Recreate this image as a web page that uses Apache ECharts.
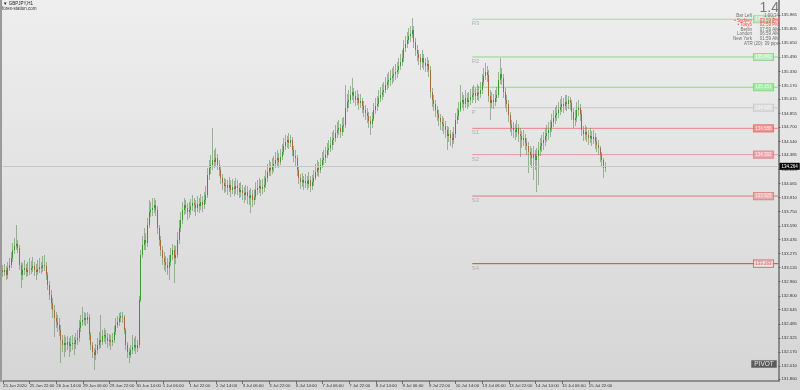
<!DOCTYPE html>
<html><head><meta charset="utf-8">
<script src="https://cdn.jsdelivr.net/npm/echarts@6/dist/echarts.min.js"></script>
<style>html,body{margin:0;padding:0;}#c{width:800px;height:390px;background:linear-gradient(#eeeeee,#d5d5d5);}</style>
</head><body><div id="c"></div>
<script>
const symbolName = 'GBPJPY,H1';
const xTickLabels = ['25 Jun 2020','25 Jun 22:00','26 Jun 14:00','29 Jun 06:00','29 Jun 22:00','30 Jun 14:00','1 Jul 06:00','1 Jul 22:00','2 Jul 14:00','3 Jul 06:00','3 Jul 22:00','6 Jul 14:00','7 Jul 06:00','7 Jul 22:00','8 Jul 14:00','9 Jul 06:00','9 Jul 22:00','10 Jul 14:00','13 Jul 06:00','13 Jul 22:00','14 Jul 14:00','15 Jul 06:00','15 Jul 22:00'];
const yTickValues = [135.965,135.805,135.650,135.490,135.330,135.170,135.015,134.855,134.700,134.540,134.385,134.225,134.065,133.910,133.750,133.590,133.435,133.275,133.120,132.960,132.800,132.645,132.485,132.325,132.170,132.010,131.860];

const opens = [
133.092,133.069,133.092,133.036,133.114,133.148,133.227,133.317,133.362,133.385,
133.340,133.148,133.036,133.092,133.114,133.069,133.092,133.092,133.114,133.136,
133.092,133.069,133.103,133.125,133.114,133.148,133.136,133.036,132.923,132.810,
132.720,132.641,132.551,132.505,132.472,132.416,132.303,132.247,132.269,132.247,
132.280,132.235,132.258,132.269,132.258,132.303,132.326,132.438,132.505,132.528,
132.551,132.528,132.562,132.360,132.247,132.167,132.134,132.190,132.247,132.303,
132.280,132.348,132.360,132.326,132.292,132.303,132.280,132.303,132.393,132.472,
132.505,132.551,132.573,132.562,132.416,132.247,132.167,132.134,132.190,132.224,
132.247,132.212,132.247,132.754,133.261,133.374,133.430,133.396,133.599,133.745,
133.768,133.790,133.824,133.768,133.565,133.430,133.317,133.227,133.181,133.148,
133.114,133.181,133.261,133.317,133.227,133.261,133.430,133.565,133.655,133.768,
133.824,133.790,133.745,133.768,133.812,133.846,133.824,133.790,133.835,133.812,
133.857,133.824,133.880,133.936,134.162,134.241,134.275,134.331,134.308,134.354,
134.275,134.218,134.128,134.072,134.038,134.050,134.016,134.050,133.993,134.027,
134.005,134.038,134.016,133.970,133.993,133.959,133.936,133.970,133.925,133.903,
133.936,133.880,133.914,133.993,134.016,134.038,134.005,134.027,134.050,134.128,
134.196,134.241,134.218,134.264,134.286,134.331,134.354,134.308,134.365,134.421,
134.489,134.534,134.557,134.523,134.557,134.444,134.376,134.354,134.218,134.128,
134.083,134.106,134.072,134.095,134.061,134.106,134.038,134.083,134.128,134.196,
134.241,134.218,134.275,134.331,134.354,134.388,134.444,134.467,134.500,134.557,
134.579,134.635,134.669,134.692,134.646,134.714,134.726,134.917,134.984,135.007,
135.064,135.097,135.052,135.007,135.030,134.973,134.996,134.939,134.895,134.861,
134.827,134.771,134.737,134.793,134.895,134.939,134.962,135.030,135.064,135.097,
135.120,135.176,135.210,135.233,135.255,135.278,135.301,135.323,135.346,135.390,
135.435,135.480,135.593,135.638,135.683,135.728,135.751,135.796,135.661,135.571,
135.526,135.480,135.435,135.480,135.424,135.390,135.413,135.346,135.097,135.007,
134.962,134.895,134.850,134.805,134.759,134.737,134.714,134.669,134.602,134.624,
134.579,134.557,134.624,134.782,134.827,134.895,134.984,135.007,134.962,135.030,
134.984,135.007,135.041,135.064,135.086,135.052,135.097,135.075,135.120,135.210,
135.278,135.323,135.289,135.052,134.973,135.007,134.984,135.030,135.064,135.233,
135.301,135.255,135.097,135.007,134.962,134.838,134.726,134.692,134.669,134.646,
134.692,134.624,134.602,134.557,134.579,134.523,134.489,134.421,134.388,134.354,
134.399,134.331,134.376,134.444,134.489,134.523,134.557,134.602,134.635,134.669,
134.692,134.759,134.805,134.838,134.861,134.895,134.928,134.962,134.939,134.984,
134.962,135.007,134.973,134.872,134.782,134.805,134.895,134.917,134.850,134.669,
134.624,134.646,134.613,134.579,134.602,134.568,134.590,134.534,134.500,134.467,
134.388,134.331,134.241];

const closes = [
133.069,133.092,133.036,133.114,133.148,133.227,133.317,133.362,133.385,133.340,
133.148,133.036,133.092,133.114,133.069,133.092,133.092,133.114,133.136,133.092,
133.069,133.103,133.125,133.114,133.148,133.136,133.036,132.923,132.810,132.720,
132.641,132.551,132.505,132.472,132.416,132.303,132.247,132.269,132.247,132.280,
132.235,132.258,132.269,132.258,132.303,132.326,132.438,132.505,132.528,132.551,
132.528,132.562,132.360,132.247,132.167,132.134,132.190,132.247,132.303,132.280,
132.348,132.360,132.326,132.292,132.303,132.280,132.303,132.393,132.472,132.505,
132.551,132.573,132.562,132.416,132.247,132.167,132.134,132.190,132.224,132.247,
132.212,132.247,132.754,133.261,133.374,133.430,133.396,133.599,133.745,133.768,
133.790,133.824,133.768,133.565,133.430,133.317,133.227,133.181,133.148,133.114,
133.181,133.261,133.317,133.227,133.261,133.430,133.565,133.655,133.768,133.824,
133.790,133.745,133.768,133.812,133.846,133.824,133.790,133.835,133.812,133.857,
133.824,133.880,133.936,134.162,134.241,134.275,134.331,134.308,134.354,134.275,
134.218,134.128,134.072,134.038,134.050,134.016,134.050,133.993,134.027,134.005,
134.038,134.016,133.970,133.993,133.959,133.936,133.970,133.925,133.903,133.936,
133.880,133.914,133.993,134.016,134.038,134.005,134.027,134.050,134.128,134.196,
134.241,134.218,134.264,134.286,134.331,134.354,134.308,134.365,134.421,134.489,
134.534,134.557,134.523,134.557,134.444,134.376,134.354,134.218,134.128,134.083,
134.106,134.072,134.095,134.061,134.106,134.038,134.083,134.128,134.196,134.241,
134.218,134.275,134.331,134.354,134.388,134.444,134.467,134.500,134.557,134.579,
134.635,134.669,134.692,134.646,134.714,134.726,134.917,134.984,135.007,135.064,
135.097,135.052,135.007,135.030,134.973,134.996,134.939,134.895,134.861,134.827,
134.771,134.737,134.793,134.895,134.939,134.962,135.030,135.064,135.097,135.120,
135.176,135.210,135.233,135.255,135.278,135.301,135.323,135.346,135.390,135.435,
135.480,135.593,135.638,135.683,135.728,135.751,135.796,135.661,135.571,135.526,
135.480,135.435,135.480,135.424,135.390,135.413,135.346,135.097,135.007,134.962,
134.895,134.850,134.805,134.759,134.737,134.714,134.669,134.602,134.624,134.579,
134.557,134.624,134.782,134.827,134.895,134.984,135.007,134.962,135.030,134.984,
135.007,135.041,135.064,135.086,135.052,135.097,135.075,135.120,135.210,135.278,
135.323,135.289,135.052,134.973,135.007,134.984,135.030,135.064,135.233,135.301,
135.255,135.097,135.007,134.962,134.838,134.726,134.692,134.669,134.646,134.692,
134.624,134.602,134.557,134.579,134.523,134.489,134.421,134.388,134.354,134.399,
134.331,134.376,134.444,134.489,134.523,134.557,134.602,134.635,134.669,134.692,
134.759,134.805,134.838,134.861,134.895,134.928,134.962,134.939,134.984,134.962,
135.007,134.973,134.872,134.782,134.805,134.895,134.917,134.850,134.669,134.624,
134.646,134.613,134.579,134.602,134.568,134.590,134.534,134.500,134.467,134.388,
134.331,134.241,134.264];

const highs = [
133.148,133.159,133.136,133.181,133.227,133.294,133.396,133.452,133.599,133.430,
133.374,133.181,133.170,133.204,133.159,133.181,133.227,133.193,133.238,133.181,
133.159,133.204,133.227,133.181,133.249,133.261,133.181,133.069,132.968,132.866,
132.776,132.698,132.618,132.585,132.551,132.472,132.360,132.360,132.337,132.348,
132.326,132.348,132.360,132.337,132.382,132.416,132.528,132.585,132.675,132.618,
132.607,132.618,132.596,132.393,132.280,132.212,132.258,132.326,132.393,132.585,
132.416,132.438,132.416,132.382,132.371,132.360,132.382,132.461,132.551,132.573,
132.607,132.618,132.618,132.585,132.438,132.280,132.212,132.247,132.360,132.326,
132.348,132.303,132.799,133.317,133.475,133.565,133.508,133.678,133.880,133.857,
133.903,133.903,133.880,133.812,133.599,133.475,133.362,133.294,133.249,133.227,
133.261,133.340,133.385,133.374,133.362,133.520,133.655,133.745,133.857,133.903,
133.880,133.846,133.857,133.891,133.936,133.903,133.880,133.925,133.903,133.948,
133.925,133.970,134.038,134.241,134.331,134.388,134.692,134.444,134.467,134.399,
134.331,134.264,134.173,134.128,134.117,134.106,134.140,134.106,134.117,134.095,
134.128,134.106,134.072,134.083,134.050,134.027,134.050,134.038,133.993,134.016,
133.993,134.005,134.083,134.106,134.128,134.106,134.117,134.151,134.218,134.286,
134.331,134.308,134.354,134.376,134.421,134.444,134.410,134.455,134.512,134.579,
134.613,134.602,134.635,134.613,134.590,134.489,134.444,134.388,134.264,134.173,
134.184,134.151,134.173,134.151,134.196,134.151,134.162,134.218,134.286,134.331,
134.308,134.354,134.421,134.444,134.478,134.523,134.557,134.590,134.646,134.669,
134.726,134.759,134.782,134.737,134.805,134.816,135.176,135.075,135.120,135.165,
135.255,135.142,135.109,135.120,135.075,135.075,135.030,134.996,134.951,134.917,
134.872,134.827,134.872,134.973,135.030,135.052,135.120,135.154,135.188,135.210,
135.266,135.301,135.323,135.346,135.368,135.390,135.413,135.435,135.480,135.526,
135.571,135.683,135.728,135.773,135.819,135.841,135.931,135.841,135.706,135.627,
135.571,135.526,135.571,135.526,135.480,135.492,135.458,135.390,135.142,135.064,
135.007,134.939,134.895,134.850,134.827,134.805,134.771,134.714,134.703,134.669,
134.646,134.703,134.861,134.917,134.984,135.176,135.097,135.064,135.120,135.086,
135.097,135.131,135.154,135.176,135.142,135.188,135.165,135.210,135.301,135.368,
135.424,135.390,135.346,135.120,135.097,135.075,135.120,135.154,135.323,135.480,
135.368,135.301,135.142,135.064,135.007,134.872,134.782,134.759,134.737,134.782,
134.737,134.692,134.658,134.669,134.624,134.579,134.534,134.489,134.467,134.489,
134.444,134.467,134.534,134.579,134.613,134.646,134.692,134.726,134.759,134.782,
134.850,134.895,134.928,134.951,134.984,135.018,135.052,135.030,135.064,135.064,
135.052,135.041,135.007,134.917,134.895,134.984,135.007,134.962,134.895,134.714,
134.726,134.703,134.669,134.692,134.658,134.669,134.635,134.590,134.557,134.489,
134.421,134.354,134.308];

const lows = [
133.013,133.024,132.979,132.990,133.081,133.114,133.181,133.272,133.317,133.283,
133.092,132.889,132.979,133.036,133.013,133.024,133.036,133.047,133.069,133.024,
132.979,133.036,133.058,133.047,133.069,133.081,132.979,132.866,132.754,132.653,
132.551,132.337,132.438,132.393,132.348,132.044,132.167,132.111,132.167,132.190,
132.111,132.167,132.190,132.134,132.201,132.247,132.280,132.393,132.461,132.472,
132.461,132.483,132.303,132.190,132.100,131.965,132.078,132.145,132.201,132.212,
132.247,132.280,132.258,132.212,132.235,132.190,132.235,132.269,132.360,132.438,
132.461,132.505,132.494,132.371,132.190,132.100,132.044,132.100,132.145,132.179,
132.145,132.167,132.212,132.731,133.227,133.317,133.317,133.351,133.565,133.689,
133.700,133.734,133.700,133.497,133.362,133.249,133.148,133.092,133.069,133.036,
132.979,133.136,133.204,132.945,133.159,133.227,133.385,133.520,133.610,133.712,
133.723,133.655,133.678,133.712,133.756,133.745,133.700,133.745,133.734,133.768,
133.745,133.779,133.835,133.903,134.106,134.173,134.218,134.241,134.264,134.218,
134.151,134.061,133.993,133.959,133.970,133.936,133.970,133.914,133.948,133.925,
133.948,133.936,133.903,133.914,133.880,133.846,133.880,133.835,133.824,133.734,
133.801,133.824,133.880,133.936,133.959,133.925,133.948,133.970,134.016,134.083,
134.151,134.151,134.173,134.196,134.241,134.264,134.241,134.275,134.331,134.388,
134.444,134.467,134.455,134.478,134.376,134.308,134.264,134.151,134.061,134.005,
134.027,133.993,134.016,133.993,134.016,133.970,133.993,134.038,134.106,134.151,
134.140,134.184,134.241,134.275,134.297,134.354,134.388,134.421,134.444,134.500,
134.534,134.579,134.613,134.579,134.602,134.646,134.692,134.872,134.917,134.962,
135.007,134.973,134.939,134.951,134.895,134.917,134.861,134.816,134.782,134.748,
134.692,134.613,134.692,134.771,134.850,134.884,134.928,134.984,135.007,135.041,
135.086,135.120,135.143,135.165,135.188,135.210,135.233,135.255,135.301,135.346,
135.390,135.435,135.548,135.593,135.638,135.661,135.706,135.593,135.503,135.447,
135.402,135.346,135.368,135.346,135.323,135.323,135.266,135.030,134.928,134.884,
134.816,134.771,134.714,134.669,134.658,134.624,134.579,134.444,134.534,134.489,
134.467,134.512,134.579,134.737,134.782,134.872,134.917,134.884,134.917,134.906,
134.928,134.951,134.973,135.007,134.973,135.007,134.996,135.030,135.075,135.165,
135.233,135.210,134.984,134.782,134.917,134.906,134.939,134.984,135.030,135.188,
135.176,135.030,134.917,134.872,134.759,134.646,134.602,134.579,134.557,134.590,
134.534,134.365,134.467,134.489,134.444,134.388,134.184,134.275,134.241,134.106,
134.218,133.970,134.050,134.376,134.421,134.444,134.489,134.534,134.557,134.590,
134.646,134.703,134.737,134.771,134.805,134.838,134.872,134.861,134.895,134.884,
134.906,134.895,134.782,134.692,134.714,134.759,134.827,134.771,134.602,134.546,
134.557,134.534,134.500,134.523,134.489,134.512,134.455,134.421,134.388,134.308,
134.252,134.128,134.196];

const pivotNames = ['R3','R2','R1','P','S1','S2','S3','S4'];
const pivotValues = [135.917,135.492,135.151,134.920,134.688,134.392,133.925,133.163];
const pivotStartIndex = 282;   // 13 Jul 00:00, start of the pivot week
const slotCount = 467;         // bar slots visible across the chart width

const infoLabels = ['Bar Left','\u2022 Sydney','\u2022 Tokyo','Berlin','London','New York'];
const infoValues = ['1:00:34','03:59 PM','02:59 PM','07:59 AM','06:59 AM','01:59 AM'];
const infoAtr = 'ATR (20): 39 pips';
const spreadText = '1.4';

// styles (kept apart from the data)
const pivotLineColors = ['#a9d6a9','#8fd68f','#7de47d','#c9c9c9','#ef8282','#ee95a0','#e07a7a','#c24a4a'];
const pivotBoxFill    = ['#bfe4bf','#bdeabd','#9eea9e','#dcdcdc','#ef8a8a','#f09aa4','#eda8a8','#f3e6e6'];
const pivotBoxBorder  = ['#8cc98c','#79cc79','#62d862','#c4c4c4','#dd6464','#de7884','#d57070','#c24a4a'];
const pivotBoxText    = ['#ffffff','#ffffff','#ffffff','#ffffff','#ffffff','#ffffff','#ffffff','#c24a4a'];
const FONT = '"Liberation Sans", Arial, sans-serif';

const chart = echarts.init(document.getElementById('c'), null, {renderer:'canvas'});
const cats = Array.from({length: slotCount}, (_, i) => String(i));
const wickData = opens.map((o, i) => [o, closes[i], lows[i], highs[i]]);
const bodyData = opens.map((o, i) => [o, closes[i], Math.min(o, closes[i]), Math.max(o, closes[i])]);
const lastClose = closes[closes.length - 1];
const boxIndex = slotCount - 10;

const series = [];
pivotValues.forEach((v, k) => {
  series.push({
    type: 'line', silent: true, symbol: 'none', z: 1,
    data: [[pivotStartIndex, v], [slotCount - 1, v]],
    lineStyle: {color: pivotLineColors[k], width: 1}
  });
});
const wickCol = 'rgba(105,145,100,0.62)';
series.push({
  type: 'candlestick', silent: true, barWidth: 1, z: 3,
  data: wickData,
  itemStyle: {color: wickCol, color0: wickCol, borderColor: wickCol, borderColor0: wickCol, borderWidth: 1},
  markLine: {
    silent: true, symbol: 'none', animation: false,
    lineStyle: {color: '#c6c6c6', width: 1, type: 'solid'},
    label: {show: true, position: 'end', distance: 1, formatter: () => lastClose.toFixed(3),
            backgroundColor: '#050505', color: '#ffffff', fontSize: 4.5, fontFamily: FONT, padding: [1, 2]},
    data: [{yAxis: lastClose}]
  }
});
series.push({
  type: 'candlestick', silent: true, barWidth: 1, z: 4,
  data: bodyData,
  itemStyle: {color: '#339a2b', color0: '#a5683a', borderColor: '#339a2b', borderColor0: '#a5683a', borderWidth: 1}
});
series.push({
  type: 'scatter', silent: true, symbolSize: 1, z: 5,
  itemStyle: {color: 'rgba(0,0,0,0)'},
  data: pivotValues.map((v, k) => ({value: [pivotStartIndex, v],
    label: {show: true, position: [0, 2], formatter: pivotNames[k], color: '#a3a3a3', fontSize: 6, fontFamily: FONT}}))
});
series.push({
  type: 'scatter', silent: true, symbolSize: 1, z: 6,
  itemStyle: {color: 'rgba(0,0,0,0)'},
  data: pivotValues.map((v, k) => ({value: [boxIndex, v],
    label: {show: true, position: 'inside', formatter: v.toFixed(3), color: pivotBoxText[k], fontSize: 4.5, fontFamily: FONT,
            backgroundColor: pivotBoxFill[k], borderColor: pivotBoxBorder[k], borderWidth: 0.8, padding: [0.8, 1.6]}}))
});

const graphics = [
  {type: 'rect', shape: {x: 0, y: 0, width: 2, height: 382}, style: {fill: '#9a9a9a'}, silent: true},
  {type: 'text', x: 3, y: 4, style: {text: '\u25BC ' + symbolName, fill: '#222', font: '4.5px ' + FONT, align: 'left', verticalAlign: 'middle', textAlign: 'left', textVerticalAlign: 'middle'}},
  {type: 'text', x: 2, y: 8.5, style: {text: 'forex-station.com', fill: '#333', font: '4.5px ' + FONT, align: 'left', verticalAlign: 'middle', textAlign: 'left', textVerticalAlign: 'middle'}},
  {type: 'text', x: 779, y: 8, z: 100, style: {text: spreadText, fill: '#7a7a7a', font: '14px ' + FONT, align: 'right', verticalAlign: 'middle', textAlign: 'right', textVerticalAlign: 'middle'}},
  {type: 'text', x: 779, y: 43.5, z: 100, style: {text: infoAtr, fill: '#6e6e6e', font: '4.5px ' + FONT, align: 'right', verticalAlign: 'middle', textAlign: 'right', textVerticalAlign: 'middle'}},
  {type: 'rect', shape: {x: 751, y: 360, width: 26, height: 8}, style: {fill: '#5b5b5b', stroke: '#d0d0d0', lineWidth: 0.6}, z: 100},
  {type: 'text', x: 764, y: 364.2, z: 101, style: {text: 'PIVOT', fill: '#e4e4e4', font: '6.5px ' + FONT, align: 'center', verticalAlign: 'middle', textAlign: 'center', textVerticalAlign: 'middle'}}
];
const rowYs = [16, 20.5, 25, 29.5, 34, 38.5];
infoLabels.forEach((t, r) => {
  const red = r === 1 || r === 2;
  const col = red ? '#ff3b3b' : '#6e6e6e';
  graphics.push({type: 'text', x: 752, y: rowYs[r], z: 100, style: {text: t, fill: col, font: '4.5px ' + FONT, align: 'right', verticalAlign: 'middle', textAlign: 'right', textVerticalAlign: 'middle'}});
  graphics.push({type: 'text', x: 779, y: rowYs[r], z: 100, style: {text: infoValues[r], fill: col, font: '4.5px ' + FONT, align: 'right', verticalAlign: 'middle', textAlign: 'right', textVerticalAlign: 'middle'}});
});

const tickShown = (idx) => idx % 16 === 0 && idx / 16 < xTickLabels.length;

chart.setOption({
  animation: false,
  backgroundColor: 'transparent',
  grid: {left: 2, right: 19, top: 0, bottom: 9, containLabel: false},
  xAxis: {
    type: 'category', data: cats, boundaryGap: false,
    axisLine: {show: true, lineStyle: {color: '#787878', width: 1.5}},
    axisTick: {show: true, interval: tickShown, length: 3, lineStyle: {color: '#555', width: 0.8}},
    axisLabel: {show: true, interval: tickShown, formatter: (v, i) => xTickLabels[i / 16] || '',
                align: 'left', margin: 2.5, fontSize: 4.3, color: '#333', fontFamily: FONT, hideOverlap: false},
    splitLine: {show: false}
  },
  yAxis: {
    type: 'value', position: 'right', min: 131.841, max: 136.134, scale: true,
    axisLine: {show: true, lineStyle: {color: '#8a8a8a', width: 2}},
    axisTick: {show: true, customValues: yTickValues, length: 2, lineStyle: {color: '#555', width: 0.8}},
    axisLabel: {show: true, customValues: yTickValues, formatter: v => v.toFixed(3), margin: 3,
                fontSize: 4.3, color: '#333', fontFamily: FONT},
    splitLine: {show: false}
  },
  series: series,
  graphic: {elements: graphics}
});
</script></body></html>
